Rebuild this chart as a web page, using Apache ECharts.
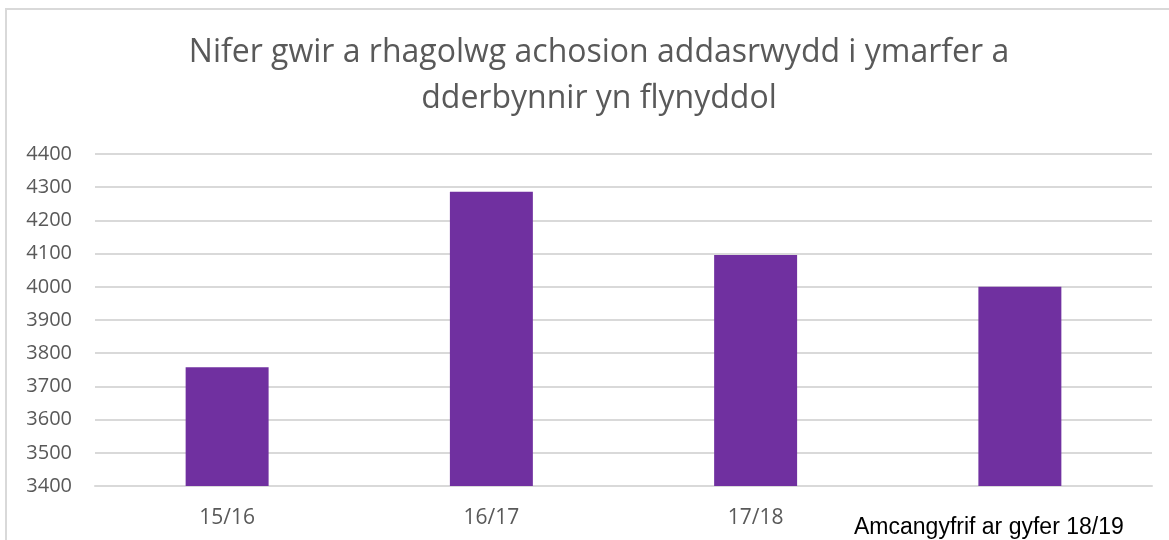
<!DOCTYPE html>
<html>
<head>
<meta charset="utf-8">
<script src="https://cdn.jsdelivr.net/npm/echarts@6/dist/echarts.min.js"></script>
<style>
html,body{margin:0;padding:0;background:#fff;}
#c{width:1169px;height:540px;}
</style>
</head>
<body>
<div id="c"></div>
<script>
const titleText = 'Nifer gwir a rhagolwg achosion addasrwydd i ymarfer a\ndderbynnir yn flynyddol';
const categories = ['15/16', '16/17', '17/18', 'Amcangyfrif ar gyfer 18/19'];
const values = [3758, 4286, 4096, 4000];
const yMin = 3400, yMax = 4400, yStep = 100;

const chart = echarts.init(document.getElementById('c'));
chart.setOption({
  animation: false,
  backgroundColor: '#fff',
  graphic: [{
    type: 'rect',
    shape: { x: 6, y: 9, width: 1200, height: 600 },
    style: { fill: 'none', stroke: '#d9d9d9', lineWidth: 2 },
    silent: true
  }],
  title: {
    text: titleText,
    left: 594,
    textAlign: 'center',
    top: 25,
    padding: 5,
    textStyle: {
      fontFamily: 'Open Sans',
      fontWeight: 400,
      fontSize: 32,
      color: '#595959',
      lineHeight: 46
    }
  },
  grid: { left: 95, right: 17, top: 154, bottom: 54 },
  xAxis: {
    type: 'category',
    data: categories,
    axisLine: { lineStyle: { color: '#d9d9d9', width: 2 } },
    axisTick: { show: false },
    axisLabel: {
      interval: 0,
      margin: 22,
      color: '#595959',
      fontFamily: 'Open Sans',
      fontSize: 21,
      formatter: function (v, i) {
        return i === categories.length - 1 ? '{est|' + v + '}' : v;
      },
      rich: {
        est: {
          fontFamily: 'Liberation Sans',
          color: '#000',
          fontSize: 23,
          padding: [8, 62, 0, 0]
        }
      }
    }
  },
  yAxis: {
    type: 'value',
    min: yMin,
    max: yMax,
    interval: yStep,
    axisLine: { show: false },
    axisTick: { show: false },
    splitLine: { lineStyle: { color: '#d9d9d9', width: 2 } },
    axisLabel: {
      margin: 23,
      color: '#595959',
      fontFamily: 'Open Sans',
      fontSize: 20,
      formatter: function (v) { return String(v); }
    }
  },
  series: [{
    type: 'bar',
    data: values,
    barWidth: '31.4%',
    itemStyle: { color: '#7030a0' }
  }]
});
</script>
</body>
</html>
